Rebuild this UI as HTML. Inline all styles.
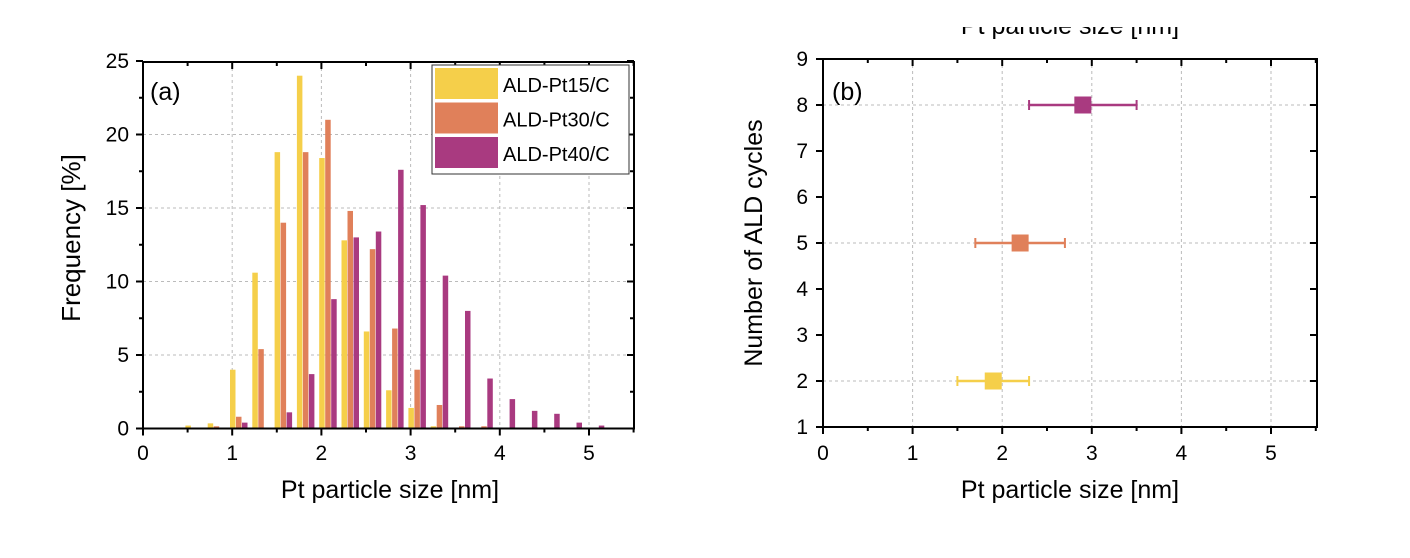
<!DOCTYPE html>
<html><head><meta charset="utf-8"><style>
html,body{margin:0;padding:0;background:#fff;}
svg{display:block;font-family:"Liberation Sans","DejaVu Sans",sans-serif;}
</style></head><body>
<svg id="s" width="1410" height="558" viewBox="0 0 1410 558" xmlns="http://www.w3.org/2000/svg"></svg>
<script>
const s=document.getElementById('s');let h='';
const Y='#F5CF4A',O='#E0805A',P='#A93A80';
function L(x1,y1,x2,y2,st){h+=`<line x1="${x1}" y1="${y1}" x2="${x2}" y2="${y2}" ${st}/>`;}
function T(x,y,t,st){h+=`<text x="${x}" y="${y}" ${st}>${t}</text>`;}
const grid='stroke="#bbb" stroke-width="1" stroke-dasharray="3,3"';
const ax='stroke="#000" stroke-width="2"';
const lx0=143,lux=89.2,ly0=428.5,luy=14.7,lR=634,lT=62;
const X=v=>lx0+v*lux, Yv=v=>ly0-v*luy;
for(let i=1;i<=5;i++)L(X(i),lT,X(i),ly0,grid);
for(let i=5;i<=20;i+=5)L(lx0,Yv(i),lR,Yv(i),grid);
const data={
 y:[0.2,0.35,4.0,10.6,18.8,24,18.4,12.8,6.6,2.6,1.4,0.15,0,0,0,0,0,0,0],
 o:[0,0.15,0.8,5.4,14,18.8,21,14.8,12.2,6.8,4.0,1.6,0.15,0.15,0,0,0,0,0],
 p:[0,0,0.4,0,1.1,3.7,8.8,13.0,13.4,17.6,15.2,10.4,8.0,3.4,2.0,1.2,1.0,0.4,0.2]};
for(let k=0;k<19;k++){
 const b=185.4+k*22.3;
 [['y',Y,0],['o',O,6],['p',P,12]].forEach(([key,c,off])=>{
  const v=data[key][k];if(v>0)h+=`<rect x="${b+off}" y="${Yv(v)}" width="5.5" height="${v*luy}" fill="${c}"/>`;
 });
}
h+=`<rect x="${lx0}" y="${lT}" width="${lR-lx0}" height="${ly0-lT}" fill="none" stroke="#000" stroke-width="2"/>`;
for(let i=0;i<=11;i++){const x=X(i*0.5);const len=i%2?4:7;L(x,ly0,x,ly0+len,ax);L(x,lT,x,lT+len,ax);}
for(let i=0;i<=10;i++){const y=Yv(i*2.5);const len=i%2?4:7;L(lx0,y,lx0-len,y,ax);L(lR,y,lR-len,y,ax);}
for(let i=0;i<=5;i++)T(X(i),460,i,'font-size="21" text-anchor="middle"');
for(let i=0;i<=25;i+=5)T(129,Yv(i)+7,i,'font-size="21" text-anchor="end"');
T(390,498,'Pt particle size [nm]','font-size="25" text-anchor="middle"');
T(80,238,'Frequency [%]','font-size="26" text-anchor="middle" transform="rotate(-90 80 238)"');
T(150,100,'(a)','font-size="25"');
h+=`<rect x="432" y="65" width="197" height="109" fill="#fff" stroke="#333" stroke-width="1"/>`;
[[Y,'ALD-Pt15/C'],[O,'ALD-Pt30/C'],[P,'ALD-Pt40/C']].forEach(([c,t],i)=>{
 h+=`<rect x="435" y="${68+i*34.5}" width="63" height="31" fill="${c}"/>`;
 T(503,92+i*34.5,t,'font-size="20"');
});
const rx0=823,rux=89.6,rR=1317,rT=59,rB=427;
const RX=v=>rx0+v*rux, RY=v=>rB-(v-1)*46;
for(let i=1;i<=5;i++)L(RX(i),rT,RX(i),rB,grid);
[2,5,8].forEach(v=>L(rx0,RY(v),rR,RY(v),grid));
h+=`<rect x="${rx0}" y="${rT}" width="${rR-rx0}" height="${rB-rT}" fill="none" stroke="#000" stroke-width="2"/>`;
for(let i=0;i<=11;i++){const x=RX(i*0.5);const len=i%2?4:7;L(x,rB,x,rB+len,ax);L(x,rT,x,rT+len,ax);}
for(let i=1;i<=9;i++){const y=RY(i);L(rx0,y,rx0-7,y,ax);L(rR,y,rR-7,y,ax);}
for(let i=0;i<=5;i++)T(RX(i),460,i,'font-size="21" text-anchor="middle"');
for(let i=1;i<=9;i++)T(808,RY(i)+7,i,'font-size="21" text-anchor="end"');
T(1070,498,'Pt particle size [nm]','font-size="25" text-anchor="middle"');
T(762,243,'Number of ALD cycles','font-size="25" text-anchor="middle" transform="rotate(-90 762 243)"');
T(832,100,'(b)','font-size="25"');
[[Y,2,1.9,1.5,2.3],[O,5,2.2,1.7,2.7],[P,8,2.9,2.3,3.5]].forEach(([c,v,m,a,b])=>{
 const y=RY(v);L(RX(a),y,RX(b),y,`stroke="${c}" stroke-width="2.5"`);
 L(RX(a),y-5,RX(a),y+5,`stroke="${c}" stroke-width="2"`);L(RX(b),y-5,RX(b),y+5,`stroke="${c}" stroke-width="2"`);
 h+=`<rect x="${RX(m)-8.5}" y="${y-8.5}" width="17" height="17" fill="${c}"/>`;
});
T(1070,34,'Pt particle size [nm]','font-size="25" text-anchor="middle"');
h+=`<rect x="900" y="0" width="350" height="27" fill="#fff"/>`;
s.innerHTML=h;
</script>
</body></html>
